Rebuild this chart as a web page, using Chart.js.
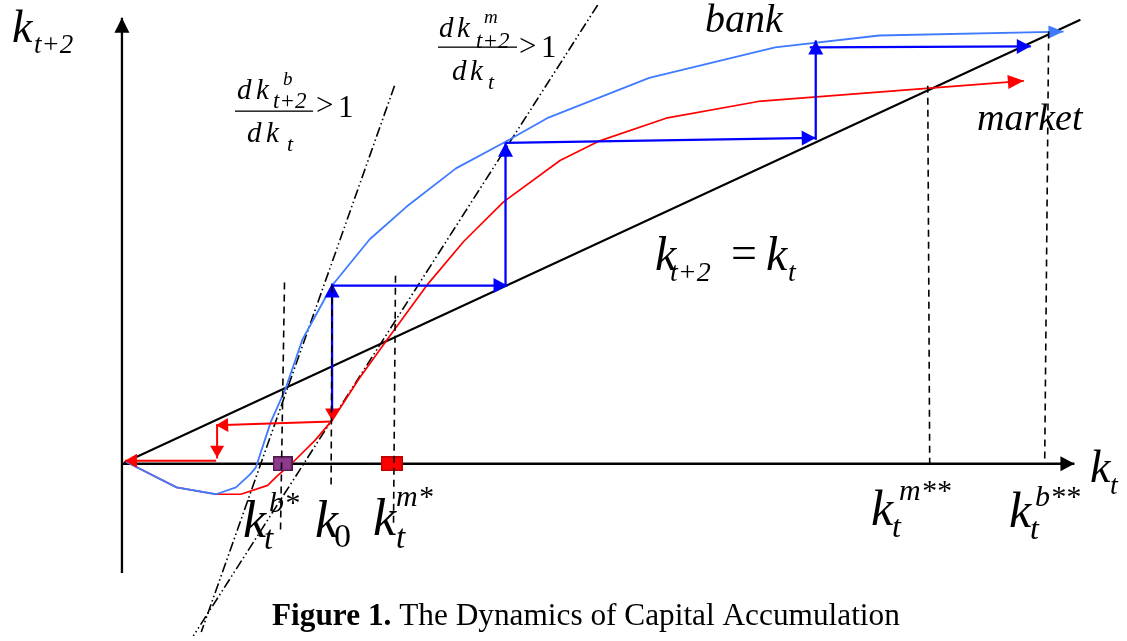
<!DOCTYPE html>
<html><head><meta charset="utf-8">
<script src="https://cdn.jsdelivr.net/npm/chart.js@4.4.1/dist/chart.umd.min.js"></script>
<style>html,body{margin:0;padding:0;background:#fff}#wrap{width:1127px;height:641px;position:relative}</style>
</head><body><div id="wrap"><canvas id="c"></canvas></div>
<script>
// ---- data (k_t on x, k_{t+2} on y; origin of the diagram at 0,0) ----
const bankK      = [4, 55, 95, 115, 129, 135, 150, 165, 182, 212, 250, 287, 337, 387, 429, 532, 659, 764, 950];
const bankNext   = [2, -24, -31, -24, -11, -4, 42, 76, 126, 181, 228, 261, 300, 327, 351, 392, 423, 435, 439];
const marketK    = [4, 55, 95, 120, 147, 157, 172, 195, 212, 239, 264, 309, 345, 385, 442, 482, 549, 642, 910];
const marketNext = [2, -24, -31, -31, -22, -12, 1, 24, 44, 86, 121, 183, 226, 266, 308, 328, 351, 368, 389];
const diagK = [2, 967];
const diagNext = [1, 451];
const bankSlopeK = [275, 80];
const bankSlopeNext = [384, -171];
const marketSlopeK = [480, 72];
const marketSlopeNext = [466, -175];
// vertical guides: [kTop, yTop, kBottom, yBottom]
const guides = [[164,184,160,-67],[212,181,211,-24],[276,191,274,-61],[813,384,815,-4],[935,439,931,0]];
const steadyBank = 162, steadyMarket = 272;
// cobweb arrows: [k0, y0, k1, y1]
const blueArrows = [[212,54,212,183],[212,181,389,181],[387,181,387,326],[387,326,700,331],[700,329,700,430],[694,423,917,424]];
const redArrows  = [[212,56,212,44],[212,43,95,39],[96,39,96,6],[95,3,3,3]];
const axisY = [[0,-111],[0,453]];
const axisX = [[0,0],[961,0]];

const pts = (xs, ys) => xs.map((x, i) => ({x, y: ys[i]}));
const seg = s => [{x: s[0], y: s[1]}, {x: s[2], y: s[3]}];

function rectImg(w, h, fill, stroke) {
  const c = document.createElement('canvas'); c.width = w; c.height = h;
  const g = c.getContext('2d');
  g.fillStyle = fill; g.fillRect(0, 0, w, h);
  g.strokeStyle = stroke; g.lineWidth = 1.5; g.strokeRect(0.75, 0.75, w - 1.5, h - 1.5);
  return c;
}

const base = {showLine: true, pointRadius: 0, fill: false, tension: 0, borderJoinStyle: 'round'};
const datasets = [];
guides.forEach(g => datasets.push({...base, data: seg(g), borderColor: '#000', borderWidth: 1.6, borderDash: [7, 5], order: 1}));
blueArrows.forEach(a => datasets.push({...base, data: seg(a), borderColor: '#0000ff', borderWidth: 2.3, arrow: {len: 14, half: 7.5}, order: 2}));
redArrows.forEach(a => datasets.push({...base, data: seg(a), borderColor: '#ff0000', borderWidth: 2, arrow: {len: 12, half: 7}, order: 2}));
datasets.push({showLine: false, data: [{x: steadyBank, y: 0}], pointStyle: rectImg(20, 15, '#8e3a8e', '#4e1a4e'), order: 3});
datasets.push({showLine: false, data: [{x: steadyMarket, y: 0}], pointStyle: rectImg(22, 15, '#ff0000', '#c00000'), order: 3});
datasets.push({...base, data: pts(bankK, bankNext), borderColor: '#3f7bff', borderWidth: 1.8, arrow: {len: 15, half: 6.5}, order: 4});
datasets.push({...base, data: pts(marketK, marketNext), borderColor: '#ff0000', borderWidth: 1.7, arrow: {len: 16, half: 7}, order: 4});
datasets.push({...base, data: pts(bankSlopeK, bankSlopeNext), borderColor: '#000', borderWidth: 1.6, borderDash: [10, 3, 1.5, 3, 1.5, 3], order: 5});
datasets.push({...base, data: pts(marketSlopeK, marketSlopeNext), borderColor: '#000', borderWidth: 1.6, borderDash: [10, 3, 1.5, 3, 1.5, 3], order: 5});
datasets.push({...base, data: pts(diagK, diagNext), borderColor: '#000', borderWidth: 2, order: 5});
datasets.push({...base, data: axisY.map(p => ({x: p[0], y: p[1]})), borderColor: '#000', borderWidth: 2.3, arrow: {len: 15, half: 7.5}, order: 6});
datasets.push({...base, data: axisX.map(p => ({x: p[0], y: p[1]})), borderColor: '#000', borderWidth: 2.3, arrow: {len: 14, half: 7.5}, order: 6});

const arrowPlugin = {
  id: 'arrows',
  afterDatasetDraw(chart, args) {
    const ds = chart.data.datasets[args.index];
    if (!ds.arrow) return;
    const el = args.meta.data;
    const n = el.length; if (n < 2) return;
    const tip = el[n - 1], prev = el[n - 2];
    const dx = tip.x - prev.x, dy = tip.y - prev.y, L = Math.hypot(dx, dy) || 1;
    const ux = dx / L, uy = dy / L;
    const bx = tip.x - ux * ds.arrow.len, by = tip.y - uy * ds.arrow.len;
    const ctx = chart.ctx; ctx.save();
    ctx.fillStyle = ds.borderColor;
    ctx.beginPath();
    ctx.moveTo(tip.x, tip.y);
    ctx.lineTo(bx - uy * ds.arrow.half, by + ux * ds.arrow.half);
    ctx.lineTo(bx + uy * ds.arrow.half, by - ux * ds.arrow.half);
    ctx.closePath(); ctx.fill(); ctx.restore();
  }
};

const FF = '"Liberation Serif", "Times New Roman", serif';
function t(ctx, s, x, y, size, style) {
  ctx.font = `${style || 'italic'} ${size}px ${FF}`;
  ctx.fillText(s, x, y);
  return ctx.measureText(s).width;
}
const textPlugin = {
  id: 'texts',
  afterDraw(chart) {
    const ctx = chart.ctx; ctx.save();
    ctx.fillStyle = '#000'; ctx.textBaseline = 'alphabetic'; ctx.textAlign = 'left';
    // y-axis label
    t(ctx, 'k', 12, 42, 46); t(ctx, 't+2', 34, 53, 27);
    // x-axis label
    t(ctx, 'k', 1090, 482, 46); t(ctx, 't', 1110, 494, 28);
    // bank slope fraction
    t(ctx, 'd', 237, 99, 29); t(ctx, 'k', 256, 99, 29); t(ctx, 'b', 283, 85, 19); t(ctx, 't+2', 273, 108, 23);
    ctx.fillRect(235, 110.5, 78, 1.3);
    t(ctx, 'd', 247, 142, 29); t(ctx, 'k', 266, 142, 29); t(ctx, 't', 287, 151, 22);
    t(ctx, '>', 316, 115, 31, 'normal'); t(ctx, '1', 338, 117, 31, 'normal');
    // market slope fraction
    t(ctx, 'd', 439, 37, 29); t(ctx, 'k', 457, 37, 29); t(ctx, 'm', 484, 23, 19); t(ctx, 't+2', 476, 48, 23);
    ctx.fillRect(438, 46.5, 79, 1.3);
    t(ctx, 'd', 452, 80, 29); t(ctx, 'k', 470, 80, 29); t(ctx, 't', 488, 89, 22);
    t(ctx, '>', 519, 56, 31, 'normal'); t(ctx, '1', 541, 57, 31, 'normal');
    // curve names
    t(ctx, 'bank', 705, 32, 40);
    t(ctx, 'market', 977, 130, 38);
    // 45 degree line equation
    t(ctx, 'k', 655, 270, 48); t(ctx, 't+2', 670, 281, 28);
    t(ctx, '=', 731, 268, 46, 'normal');
    t(ctx, 'k', 766, 270, 48); t(ctx, 't', 788, 281, 28);
    // steady-state labels
    t(ctx, 'k', 243, 537, 52); t(ctx, 't', 264, 549, 33); t(ctx, 'b*', 269, 512, 30);
    t(ctx, 'k', 315, 537, 52); t(ctx, '0', 334, 547, 34, 'normal');
    t(ctx, 'k', 373, 535, 52); t(ctx, 't', 396, 548, 33); t(ctx, 'm*', 396, 506, 30);
    t(ctx, 'k', 871, 525, 50); t(ctx, 't', 892, 537, 32); t(ctx, 'm**', 899, 500, 30);
    t(ctx, 'k', 1009, 527, 50); t(ctx, 't', 1030, 539, 32); t(ctx, 'b**', 1035, 506, 30);
    // caption
    const a = 'Figure 1.', b = ' The Dynamics of Capital Accumulation';
    ctx.font = `bold 28px ${FF}`; const wa = ctx.measureText(a).width;
    ctx.font = `28px ${FF}`; const wb = ctx.measureText(b).width;
    const s = 28 * 628 / (wa + wb);
    const w1 = t(ctx, a, 272, 625, s, 'bold');
    t(ctx, b, 272 + w1, 625, s, 'normal');
    ctx.restore();
  }
};

new Chart(document.getElementById('c'), {
  type: 'scatter',
  data: {datasets},
  options: {
    responsive: true, maintainAspectRatio: false, animation: false, events: [],
    layout: {padding: 0},
    plugins: {legend: {display: false}, tooltip: {enabled: false}},
    scales: {
      x: {type: 'linear', min: -118, max: 1009, display: false},
      y: {type: 'linear', min: -175, max: 466, display: false}
    }
  },
  plugins: [arrowPlugin, textPlugin]
});
</script></body></html>
